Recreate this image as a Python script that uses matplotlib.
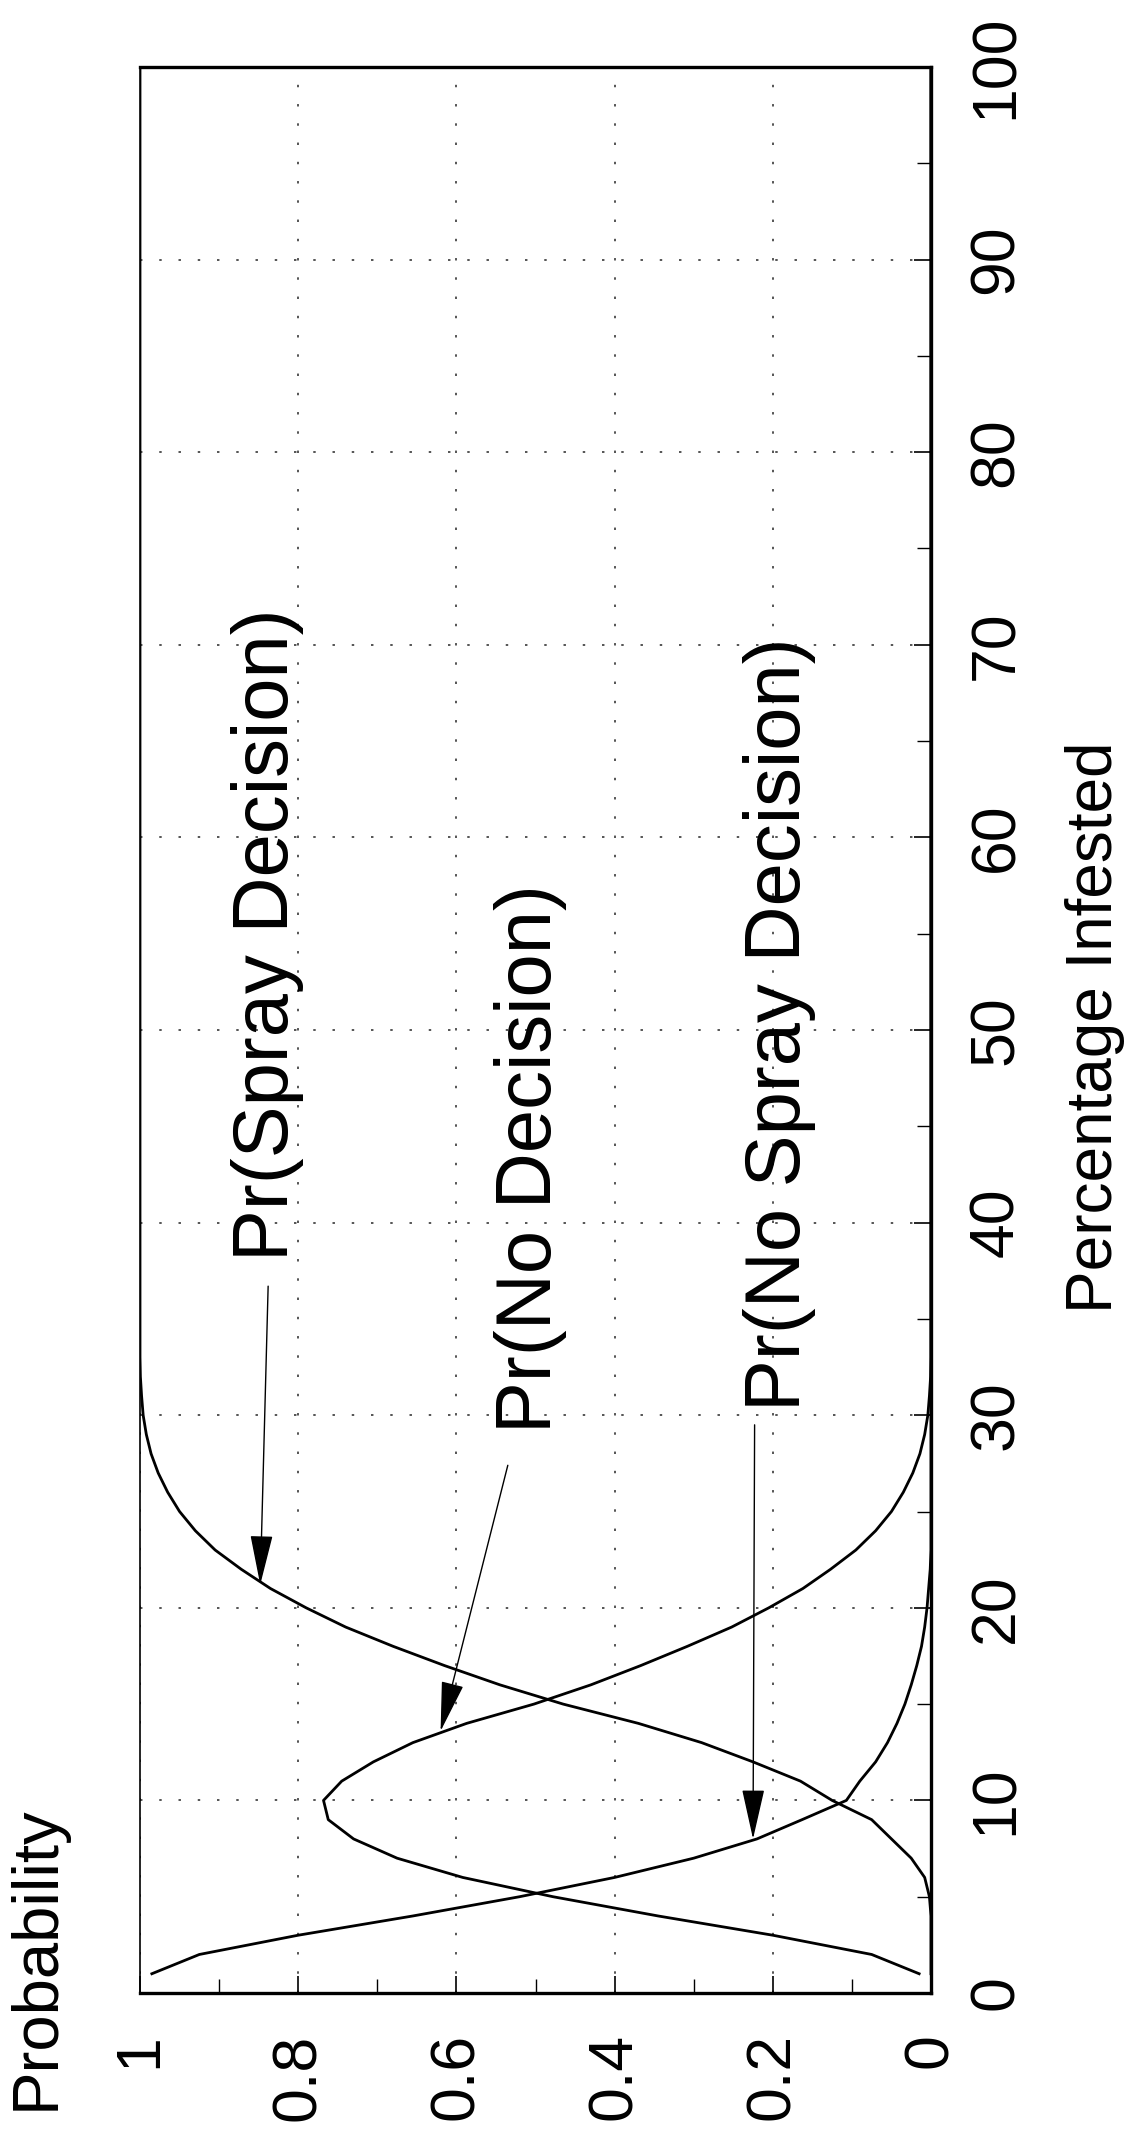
import matplotlib
matplotlib.use("Agg")
import matplotlib.pyplot as plt

plt.rcParams['font.family'] = ['Liberation Sans', 'DejaVu Sans']

# ---- data ----
percent = [1, 2, 3, 4, 5, 6, 7, 8, 9, 10, 11, 12, 13, 14, 15, 16, 17, 18, 19, 20,
           21, 22, 23, 24, 25, 26, 27, 28, 29, 30, 31, 32, 33, 100]
pr_spray = [0, 0, 0, 0, 0.002, 0.008, 0.025, 0.05, 0.075, 0.125, 0.165, 0.225, 0.29,
            0.37, 0.465, 0.545, 0.615, 0.68, 0.74, 0.79, 0.835, 0.872, 0.905, 0.93,
            0.95, 0.965, 0.977, 0.986, 0.992, 0.996, 0.998, 0.9995, 1.0, 1.0]
pr_no_decision = [0.015, 0.075, 0.20, 0.345, 0.478, 0.592, 0.675, 0.73, 0.762, 0.768,
                  0.745, 0.705, 0.655, 0.587, 0.502, 0.43, 0.367, 0.308, 0.252, 0.205,
                  0.162, 0.127, 0.095, 0.07, 0.05, 0.035, 0.023, 0.014, 0.008, 0.004,
                  0.002, 0.0005, 0, 0]
pr_no_spray = [0.985, 0.925, 0.80, 0.655, 0.52, 0.40, 0.30, 0.22, 0.163, 0.107, 0.09,
               0.07, 0.055, 0.043, 0.033, 0.025, 0.018, 0.012, 0.008, 0.005, 0.003,
               0.001, 0, 0, 0, 0, 0, 0, 0, 0, 0, 0, 0, 0]

pct_ticks = [0, 10, 20, 30, 40, 50, 60, 70, 80, 90, 100]
prob_ticks = [0, 0.2, 0.4, 0.6, 0.8, 1]
prob_labels = ['0', '0.2', '0.4', '0.6', '0.8', '1']

labels = ['Pr(Spray Decision)', 'Pr(No Decision)', 'Pr(No Spray Decision)']
label_text_pos = [(0.813, 38.0), (0.481, 29.1), (0.165, 30.2)]
arrow_start = [(0.838, 36.7), (0.535, 27.4), (0.223, 29.5)]
arrow_tip = [(0.848, 21.2), (0.62, 13.6), (0.225, 8.0)]

W, H = 1129, 2132
fig = plt.figure(figsize=(W / 100, H / 100), dpi=100)
fig.patch.set_facecolor('white')
ax = fig.add_axes([140 / W, (H - 1993) / H, (931 - 140) / W, (1993 - 67) / H])

for series in (pr_spray, pr_no_decision, pr_no_spray):
    ax.plot(series, percent, color='black', lw=2.0, solid_joinstyle='round')

ax.set_xlim(1, 0)
ax.set_ylim(0, 100)

ax.set_xticks(prob_ticks)
ax.set_xticklabels(prob_labels)
ax.set_xticks([0.1, 0.3, 0.5, 0.7, 0.9], minor=True)
ax.set_yticks(pct_ticks)
ax.set_yticks(list(range(5, 100, 10)), minor=True)

ax.yaxis.tick_right()
ax.tick_params(axis='both', which='both', direction='in', color='black',
               top=False, left=False, labelleft=False)
ax.tick_params(axis='both', which='major', length=12, width=1.2)
ax.tick_params(axis='both', which='minor', length=10, width=1.0)
ax.tick_params(axis='x', which='major', pad=29, labelsize=45)
ax.tick_params(axis='y', which='major', pad=26, labelsize=45, labelright=True)
for t in ax.get_xticklabels():
    t.set_rotation(90)
    t.set_ha('center')
    t.set_va('top')
for t in ax.get_yticklabels():
    t.set_rotation(90)
    t.set_ha('left')
    t.set_va('center')

ax.grid(True, which='major', color='0.15', lw=1.1, linestyle=(0, (1.6, 11)))

for side, lw in (('left', 1.2), ('right', 2.4), ('top', 2.4), ('bottom', 2.4)):
    ax.spines[side].set_linewidth(lw)
    ax.spines[side].set_color('black')

for lab, (tx, ty), (sx, sy), (hx, hy) in zip(labels, label_text_pos, arrow_start, arrow_tip):
    ax.text(tx, ty, lab, rotation=90, rotation_mode='anchor', ha='left',
            va='baseline', fontsize=56, color='black')
    ax.annotate('', xy=(hx, hy), xytext=(sx, sy),
                arrowprops=dict(arrowstyle='-|>,head_length=2.0,head_width=0.45',
                                mutation_scale=16, lw=1.0, color='black',
                                shrinkA=0, shrinkB=0))

fig.text(54 / W, 1 - 2110 / H, 'Probability', rotation=90, rotation_mode='anchor',
         ha='left', va='baseline', fontsize=47, color='black')
fig.text(1112 / W, 1 - 1027 / H, 'Percentage Infested', rotation=90,
         rotation_mode='anchor', ha='center', va='baseline', fontsize=46, color='black')

fig.savefig('out.png', dpi=100, facecolor='white')
